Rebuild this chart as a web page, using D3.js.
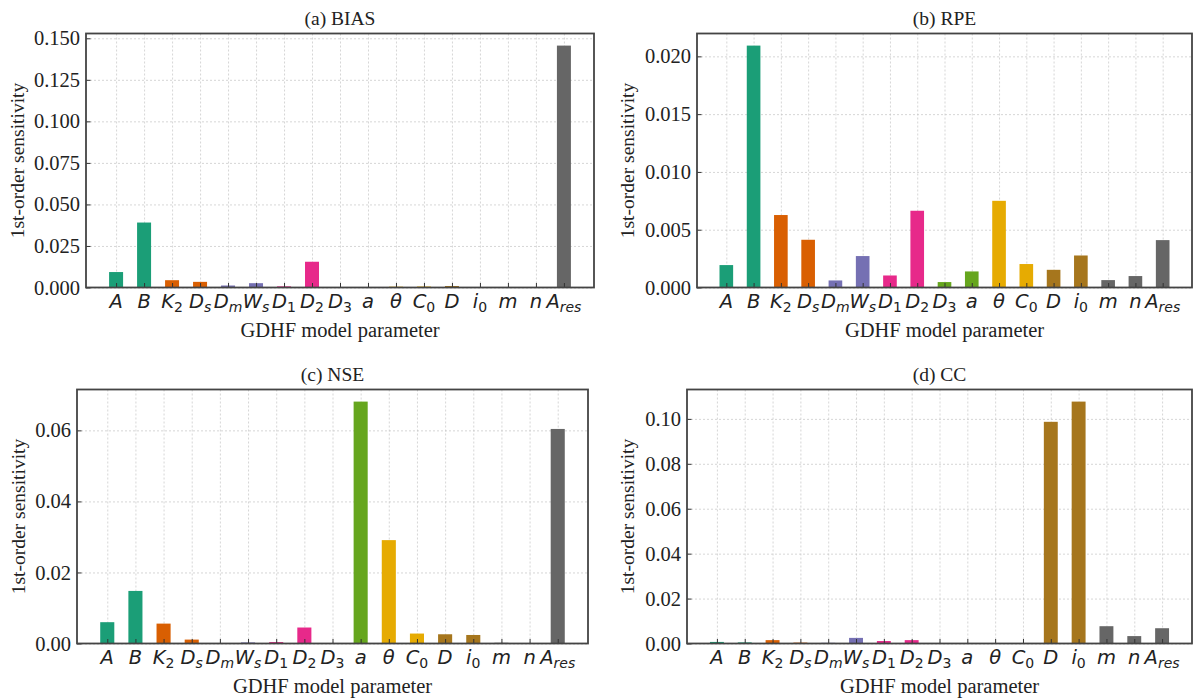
<!DOCTYPE html>
<html>
<head>
<meta charset="utf-8">
<script src="https://cdn.jsdelivr.net/npm/d3@7"></script>
<style>
  html, body { margin: 0; padding: 0; background: #fff; }
  svg { display: block; }
</style>
</head>
<body>
<script>
// ---- data ----
const categories = ["A","B","K_2","D_s","D_m","W_s","D_1","D_2","D_3","a","θ","C_0","D","i_0","m","n","A_res"];
const biasValues = [0.0093,0.0391,0.0044,0.0034,0.0012,0.0026,0.0007,0.0155,0,0.0003,0.0005,0.0006,0.0009,0,0,0,0.1456];
const rpeValues  = [0.00194,0.02093,0.00627,0.00413,0.00061,0.00272,0.00104,0.00664,0.00047,0.00139,0.0075,0.00203,0.00153,0.00277,0.00064,0.00099,0.0041];
const nseValues  = [0.0060,0.0148,0.0056,0.0011,0.0001,0.0003,0.0004,0.0045,0.0001,0.0681,0.0291,0.0028,0.0026,0.0024,0.0002,0,0.0604];
const ccValues   = [0.0007,0.0005,0.0015,0.0004,0.0003,0.0025,0.0011,0.0015,0,0,0,0,0.0987,0.1077,0.0077,0.0033,0.0068];

const biasTicks = [0,0.025,0.05,0.075,0.1,0.125,0.15];
const rpeTicks  = [0,0.005,0.01,0.015,0.02];
const nseTicks  = [0,0.02,0.04,0.06];
const ccTicks   = [0,0.02,0.04,0.06,0.08,0.1];

const titles = ["(a) BIAS","(b) RPE","(c) NSE","(d) CC"];
const xLabel = "GDHF model parameter";
const yLabel = "1st-order sensitivity";

// ---- style ----
const palette = d3.schemeDark2;
const serif = "'Liberation Serif','Times New Roman',serif";
const mathFont = "'DejaVu Sans',sans-serif";
const textColor = "#222";

const panels = [
  {values: biasValues, ticks: biasTicks, fmt: ".3f", title: titles[0], left: 86,  right: 594,  top: 33.5, bottom: 287.5, ylx: 17},
  {values: rpeValues,  ticks: rpeTicks,  fmt: ".3f", title: titles[1], left: 697, right: 1192, top: 33.5, bottom: 287.5, ylx: 627},
  {values: nseValues,  ticks: nseTicks,  fmt: ".2f", title: titles[2], left: 77,  right: 588,  top: 389.5, bottom: 643.5, ylx: 18},
  {values: ccValues,   ticks: ccTicks,   fmt: ".2f", title: titles[3], left: 687, right: 1192, top: 389.5, bottom: 643.5, ylx: 627}
];

const svg = d3.select("body").append("svg").attr("width", 1196).attr("height", 700);
const n = categories.length;

panels.forEach(p => {
  const x = d3.scaleLinear().domain([-1.075, n - 1 + 1.075]).range([p.left, p.right]);
  const y = d3.scaleLinear().domain([0, d3.max(p.values) * 1.05]).range([p.bottom, p.top]);
  const g = svg.append("g");
  const h = p.bottom - p.top, w = p.right - p.left;

  // grid
  g.append("g").attr("transform", `translate(0,${p.bottom})`)
    .call(d3.axisBottom(x).tickValues(d3.range(n)).tickSize(-h).tickFormat(""))
    .call(s => { s.select(".domain").remove();
      s.selectAll("line").attr("stroke", "#c4c4c4").attr("stroke-width", 0.7).attr("stroke-dasharray", "2,2"); });
  g.append("g").attr("transform", `translate(${p.left},0)`)
    .call(d3.axisLeft(y).tickValues(p.ticks).tickSize(-w).tickFormat(""))
    .call(s => { s.select(".domain").remove();
      s.selectAll("line").attr("stroke", "#c4c4c4").attr("stroke-width", 0.7).attr("stroke-dasharray", "2,2"); });

  // bars
  g.selectAll("rect.bar").data(p.values).join("rect").attr("class", "bar")
    .attr("x", (d, i) => x(i - 0.25))
    .attr("width", x(0.25) - x(-0.25))
    .attr("y", d => y(d))
    .attr("height", d => y(0) - y(d))
    .attr("fill", (d, i) => palette[Math.min(Math.floor(i / 2), 7)]);

  // x ticks (inward)
  g.append("g").attr("transform", `translate(0,${p.bottom})`)
    .call(d3.axisBottom(x).tickValues(d3.range(n)).tickSize(-4.5).tickFormat(""))
    .call(s => { s.select(".domain").remove();
      s.selectAll("line").attr("stroke", "#333").attr("stroke-width", 1); });

  // x tick labels (math style)
  categories.forEach((c, i) => {
    const [main, sub] = c.split("_");
    const t = g.append("text")
      .attr("x", x(i)).attr("y", p.bottom + 20)
      .attr("text-anchor", "middle")
      .attr("font-family", mathFont).attr("font-size", 19.5).attr("fill", textColor);
    t.append("tspan").attr("font-style", "italic").text(main);
    if (sub) {
      t.append("tspan").attr("font-size", "14px").attr("dy", "4")
        .attr("font-style", /^[0-9]+$/.test(sub) ? "normal" : "italic").text(sub);
    }
  });

  // y axis ticks + labels
  g.append("g").attr("transform", `translate(${p.left},0)`)
    .call(d3.axisLeft(y).tickValues(p.ticks).tickSize(-4.5).tickPadding(6).tickFormat(d3.format(p.fmt)))
    .call(s => { s.select(".domain").remove();
      s.selectAll("line").attr("stroke", "#333").attr("stroke-width", 1);
      s.selectAll("text").attr("font-family", serif).attr("font-size", 20.5).attr("fill", textColor); });

  // frame
  g.append("rect").attr("x", p.left).attr("y", p.top).attr("width", w).attr("height", h)
    .attr("fill", "none").attr("stroke", "#444").attr("stroke-width", 1.8);

  // title
  g.append("text").attr("x", (p.left + p.right) / 2).attr("y", p.top - 8.5)
    .attr("text-anchor", "middle").attr("font-family", serif).attr("font-size", 19.5)
    .attr("fill", textColor).text(p.title);

  // x label
  g.append("text").attr("x", (p.left + p.right) / 2).attr("y", p.bottom + 49)
    .attr("text-anchor", "middle").attr("font-family", serif).attr("font-size", 20.5)
    .attr("fill", textColor).text(xLabel);

  // y label
  g.append("text").attr("transform", `translate(${p.ylx},${(p.top + p.bottom) / 2}) rotate(-90)`)
    .attr("text-anchor", "middle").attr("dy", "0.35em").attr("font-family", serif).attr("font-size", 19.5)
    .attr("fill", textColor).text(yLabel);
});
</script>
</body>
</html>
